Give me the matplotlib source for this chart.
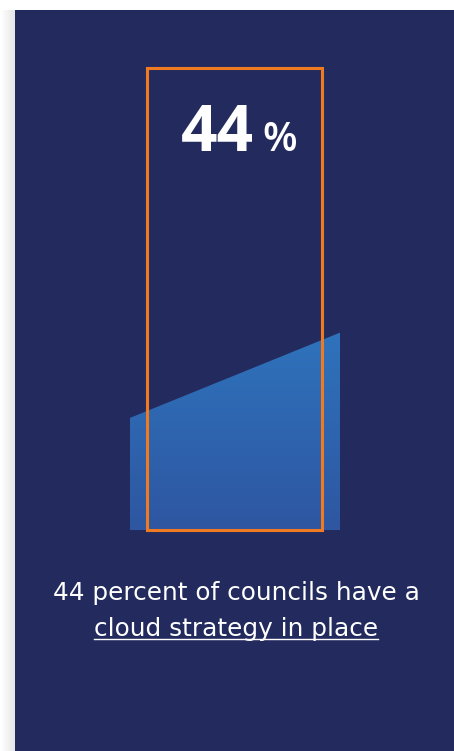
import numpy as np
import matplotlib
matplotlib.use("Agg")
import matplotlib.pyplot as plt
from matplotlib.patches import Polygon, Rectangle

# data
value = 44            # percent shown
start = 25            # height of the left edge of the wedge (percent)
box_top = 103         # top of the orange outline, same scale
headline = "44"
caption_1 = "44 percent of councils have a"
caption_2 = "cloud strategy in place"

navy = "#232B5E"
orange = "#F07A22"
blue_top = "#2F73BC"
blue_bottom = "#2E56A1"

W, H = 454, 751
fig = plt.figure(figsize=(W / 100, H / 100), dpi=100)

# background: white page, soft gray shadow on the left, navy panel
bg = fig.add_axes([0, 0, 1, 1])
bg.set_xlim(0, W)
bg.set_ylim(H, 0)
bg.axis("off")
shade = np.linspace(1.0, 0.90, 15)[None, :]
bg.imshow(np.repeat(shade, 10, axis=0), cmap="gray", vmin=0, vmax=1,
          extent=[0, 15, H, 0], aspect="auto")
bg.add_patch(Rectangle((15, 10), W - 15, H - 10, color=navy, lw=0))
bg.add_patch(Rectangle((0, 0), W, 10, color="white", lw=0))

# chart axes
x0, x1 = 130, 340
y_bot, y_top = 530, 68
ax = fig.add_axes([x0 / W, 1 - y_bot / H, (x1 - x0) / W, (y_bot - y_top) / H])
ax.set_xlim(0, 1)
ax.set_ylim(0, box_top)
ax.axis("off")

# gradient wedge
grad = np.linspace(0, 1, 256)[:, None]
cmap = matplotlib.colors.LinearSegmentedColormap.from_list("b", [blue_bottom, blue_top])
img = ax.imshow(grad, cmap=cmap, extent=[0, 1, 0, value], origin="lower",
                aspect="auto", zorder=1)
wedge = Polygon([[0, 0], [0, start], [1, value], [1, 0]], closed=True,
                transform=ax.transData, facecolor="none", edgecolor="none")
ax.add_patch(wedge)
img.set_clip_path(wedge)

# orange outline box
bx0 = (147 - x0) / (x1 - x0)
bx1 = (322 - x0) / (x1 - x0)
ax.add_patch(Rectangle((bx0, 0), bx1 - bx0, box_top, fill=False, edgecolor=orange,
                       lw=2.2, zorder=3, clip_on=False))

# big number
fig.text(254 / W, 1 - 151 / H, headline, color="white", fontsize=46,
         fontweight="bold", family="Open Sans", ha="right", va="baseline")
fig.text(262 / W, 1 - 151 / H, "%", color="white", fontsize=29,
         fontweight="semibold", family="Open Sans", ha="left", va="baseline")

# caption
cap_font = "DejaVu Sans"
fig.text(0.5 * (52 + 420) / W, 1 - 600 / H, caption_1, color="white",
         fontsize=17.8, family=cap_font, ha="center", va="baseline")
t2 = fig.text(0.5 * (93 + 379) / W, 1 - 636 / H, caption_2, color="white",
              fontsize=17.8, family=cap_font, ha="center", va="baseline")

fig.canvas.draw()
bb = t2.get_window_extent()
bg.plot([bb.x0, bb.x1], [639, 639], color="white", lw=1.0)

fig.savefig("out.png", dpi=100)
